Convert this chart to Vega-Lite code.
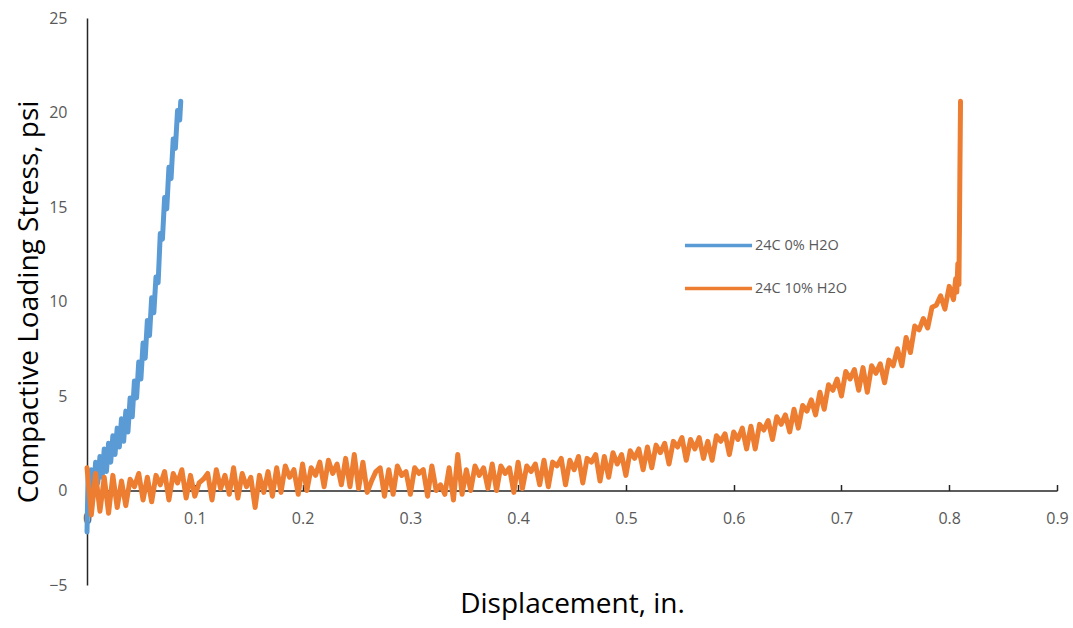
{
"$schema": "https://vega.github.io/schema/vega-lite/v6.json",
"width": 970, "height": 567, "autosize": "none",
"padding": {"left": 87, "top": 18, "right": 16, "bottom": 43},
"background": "white",
"config": {"view": {"stroke": null}, "font": "Open Sans"},
"data": {"values": [
{"s":"24C 0% H2O","x":0.000,"y":-2.2},{"s":"24C 0% H2O","x":0.001,"y":0.8},{"s":"24C 0% H2O","x":0.002,"y":-0.9},{"s":"24C 0% H2O","x":0.004,"y":1.1},{"s":"24C 0% H2O","x":0.006,"y":-0.1},{"s":"24C 0% H2O","x":0.008,"y":1.5},{"s":"24C 0% H2O","x":0.010,"y":0.4},{"s":"24C 0% H2O","x":0.012,"y":1.8},{"s":"24C 0% H2O","x":0.014,"y":0.7},{"s":"24C 0% H2O","x":0.016,"y":2.2},{"s":"24C 0% H2O","x":0.018,"y":1.0},{"s":"24C 0% H2O","x":0.020,"y":2.5},{"s":"24C 0% H2O","x":0.022,"y":1.5},{"s":"24C 0% H2O","x":0.024,"y":2.9},{"s":"24C 0% H2O","x":0.026,"y":1.9},{"s":"24C 0% H2O","x":0.028,"y":3.3},{"s":"24C 0% H2O","x":0.030,"y":2.3},{"s":"24C 0% H2O","x":0.032,"y":3.8},{"s":"24C 0% H2O","x":0.034,"y":2.6},{"s":"24C 0% H2O","x":0.036,"y":4.2},{"s":"24C 0% H2O","x":0.038,"y":3.1},{"s":"24C 0% H2O","x":0.040,"y":4.9},{"s":"24C 0% H2O","x":0.042,"y":3.9},{"s":"24C 0% H2O","x":0.044,"y":5.8},{"s":"24C 0% H2O","x":0.046,"y":4.9},{"s":"24C 0% H2O","x":0.048,"y":6.8},{"s":"24C 0% H2O","x":0.050,"y":5.9},{"s":"24C 0% H2O","x":0.052,"y":7.8},{"s":"24C 0% H2O","x":0.054,"y":7.0},{"s":"24C 0% H2O","x":0.056,"y":9.0},{"s":"24C 0% H2O","x":0.058,"y":8.2},{"s":"24C 0% H2O","x":0.060,"y":10.2},{"s":"24C 0% H2O","x":0.062,"y":9.4},{"s":"24C 0% H2O","x":0.064,"y":11.3},{"s":"24C 0% H2O","x":0.066,"y":11.0},{"s":"24C 0% H2O","x":0.068,"y":13.6},{"s":"24C 0% H2O","x":0.070,"y":13.3},{"s":"24C 0% H2O","x":0.072,"y":15.5},{"s":"24C 0% H2O","x":0.074,"y":14.9},{"s":"24C 0% H2O","x":0.076,"y":17.1},{"s":"24C 0% H2O","x":0.078,"y":16.5},{"s":"24C 0% H2O","x":0.080,"y":18.6},{"s":"24C 0% H2O","x":0.082,"y":18.1},{"s":"24C 0% H2O","x":0.084,"y":20.1},{"s":"24C 0% H2O","x":0.086,"y":19.6},{"s":"24C 0% H2O","x":0.087,"y":20.6},
{"s":"24C 10% H2O","x":0.000,"y":1.2},{"s":"24C 10% H2O","x":0.004,"y":-1.3},{"s":"24C 10% H2O","x":0.008,"y":0.9},{"s":"24C 10% H2O","x":0.012,"y":-1.1},{"s":"24C 10% H2O","x":0.016,"y":0.7},
{"s":"24C 10% H2O","x":0.020,"y":-1.2},{"s":"24C 10% H2O","x":0.024,"y":0.8},{"s":"24C 10% H2O","x":0.028,"y":-0.9},{"s":"24C 10% H2O","x":0.032,"y":0.5},{"s":"24C 10% H2O","x":0.036,"y":-0.8},
{"s":"24C 10% H2O","x":0.040,"y":0.6},{"s":"24C 10% H2O","x":0.044,"y":0.2},{"s":"24C 10% H2O","x":0.048,"y":0.9},{"s":"24C 10% H2O","x":0.052,"y":-0.5},{"s":"24C 10% H2O","x":0.056,"y":0.7},
{"s":"24C 10% H2O","x":0.060,"y":-0.6},{"s":"24C 10% H2O","x":0.064,"y":0.8},{"s":"24C 10% H2O","x":0.068,"y":0.3},{"s":"24C 10% H2O","x":0.072,"y":1.0},{"s":"24C 10% H2O","x":0.076,"y":-0.5},
{"s":"24C 10% H2O","x":0.080,"y":0.9},{"s":"24C 10% H2O","x":0.084,"y":0.4},{"s":"24C 10% H2O","x":0.088,"y":1.1},{"s":"24C 10% H2O","x":0.092,"y":-0.4},{"s":"24C 10% H2O","x":0.096,"y":0.8},
{"s":"24C 10% H2O","x":0.100,"y":-0.3},{"s":"24C 10% H2O","x":0.104,"y":0.4},{"s":"24C 10% H2O","x":0.108,"y":0.6},{"s":"24C 10% H2O","x":0.112,"y":0.9},{"s":"24C 10% H2O","x":0.116,"y":-0.5},
{"s":"24C 10% H2O","x":0.120,"y":1.1},{"s":"24C 10% H2O","x":0.124,"y":0.1},{"s":"24C 10% H2O","x":0.128,"y":0.8},{"s":"24C 10% H2O","x":0.132,"y":-0.2},{"s":"24C 10% H2O","x":0.136,"y":1.2},
{"s":"24C 10% H2O","x":0.140,"y":-0.4},{"s":"24C 10% H2O","x":0.144,"y":0.9},{"s":"24C 10% H2O","x":0.148,"y":0.2},{"s":"24C 10% H2O","x":0.152,"y":0.7},{"s":"24C 10% H2O","x":0.156,"y":-0.9},
{"s":"24C 10% H2O","x":0.160,"y":0.8},{"s":"24C 10% H2O","x":0.164,"y":-0.1},{"s":"24C 10% H2O","x":0.168,"y":1.0},{"s":"24C 10% H2O","x":0.172,"y":-0.3},{"s":"24C 10% H2O","x":0.176,"y":1.2},
{"s":"24C 10% H2O","x":0.180,"y":-0.1},{"s":"24C 10% H2O","x":0.184,"y":1.3},{"s":"24C 10% H2O","x":0.188,"y":0.7},{"s":"24C 10% H2O","x":0.192,"y":1.1},{"s":"24C 10% H2O","x":0.196,"y":-0.2},
{"s":"24C 10% H2O","x":0.200,"y":1.4},{"s":"24C 10% H2O","x":0.204,"y":0.0},{"s":"24C 10% H2O","x":0.208,"y":1.2},{"s":"24C 10% H2O","x":0.212,"y":0.8},{"s":"24C 10% H2O","x":0.216,"y":1.5},
{"s":"24C 10% H2O","x":0.220,"y":0.2},{"s":"24C 10% H2O","x":0.224,"y":1.6},{"s":"24C 10% H2O","x":0.228,"y":0.9},{"s":"24C 10% H2O","x":0.232,"y":1.4},{"s":"24C 10% H2O","x":0.236,"y":0.3},
{"s":"24C 10% H2O","x":0.240,"y":1.7},{"s":"24C 10% H2O","x":0.244,"y":0.2},{"s":"24C 10% H2O","x":0.248,"y":1.9},{"s":"24C 10% H2O","x":0.252,"y":0.1},{"s":"24C 10% H2O","x":0.256,"y":1.5},
{"s":"24C 10% H2O","x":0.260,"y":-0.1},{"s":"24C 10% H2O","x":0.264,"y":0.5},{"s":"24C 10% H2O","x":0.268,"y":1.0},{"s":"24C 10% H2O","x":0.272,"y":1.2},{"s":"24C 10% H2O","x":0.276,"y":-0.3},
{"s":"24C 10% H2O","x":0.280,"y":1.1},{"s":"24C 10% H2O","x":0.284,"y":-0.2},{"s":"24C 10% H2O","x":0.288,"y":1.3},{"s":"24C 10% H2O","x":0.292,"y":0.8},{"s":"24C 10% H2O","x":0.296,"y":1.0},
{"s":"24C 10% H2O","x":0.300,"y":-0.2},{"s":"24C 10% H2O","x":0.304,"y":1.2},{"s":"24C 10% H2O","x":0.308,"y":0.9},{"s":"24C 10% H2O","x":0.312,"y":1.1},{"s":"24C 10% H2O","x":0.316,"y":-0.3},
{"s":"24C 10% H2O","x":0.320,"y":1.3},{"s":"24C 10% H2O","x":0.324,"y":0.0},{"s":"24C 10% H2O","x":0.328,"y":0.3},{"s":"24C 10% H2O","x":0.332,"y":-0.2},{"s":"24C 10% H2O","x":0.336,"y":1.2},
{"s":"24C 10% H2O","x":0.340,"y":-0.5},{"s":"24C 10% H2O","x":0.344,"y":1.9},{"s":"24C 10% H2O","x":0.348,"y":-0.2},{"s":"24C 10% H2O","x":0.352,"y":1.1},{"s":"24C 10% H2O","x":0.356,"y":0.0},
{"s":"24C 10% H2O","x":0.360,"y":1.3},{"s":"24C 10% H2O","x":0.364,"y":0.8},{"s":"24C 10% H2O","x":0.368,"y":1.2},{"s":"24C 10% H2O","x":0.372,"y":0.1},{"s":"24C 10% H2O","x":0.376,"y":1.4},
{"s":"24C 10% H2O","x":0.380,"y":0.0},{"s":"24C 10% H2O","x":0.384,"y":1.3},{"s":"24C 10% H2O","x":0.388,"y":0.9},{"s":"24C 10% H2O","x":0.392,"y":1.2},{"s":"24C 10% H2O","x":0.396,"y":-0.1},
{"s":"24C 10% H2O","x":0.400,"y":1.5},{"s":"24C 10% H2O","x":0.404,"y":0.1},{"s":"24C 10% H2O","x":0.408,"y":1.3},{"s":"24C 10% H2O","x":0.412,"y":1.0},{"s":"24C 10% H2O","x":0.416,"y":1.4},
{"s":"24C 10% H2O","x":0.420,"y":0.3},{"s":"24C 10% H2O","x":0.424,"y":1.6},{"s":"24C 10% H2O","x":0.428,"y":0.2},{"s":"24C 10% H2O","x":0.432,"y":1.5},{"s":"24C 10% H2O","x":0.436,"y":1.3},
{"s":"24C 10% H2O","x":0.440,"y":1.7},{"s":"24C 10% H2O","x":0.444,"y":0.3},{"s":"24C 10% H2O","x":0.448,"y":1.6},{"s":"24C 10% H2O","x":0.452,"y":1.1},{"s":"24C 10% H2O","x":0.456,"y":1.8},
{"s":"24C 10% H2O","x":0.460,"y":0.4},{"s":"24C 10% H2O","x":0.464,"y":1.7},{"s":"24C 10% H2O","x":0.468,"y":1.5},{"s":"24C 10% H2O","x":0.472,"y":1.9},{"s":"24C 10% H2O","x":0.476,"y":0.5},
{"s":"24C 10% H2O","x":0.480,"y":1.8},{"s":"24C 10% H2O","x":0.484,"y":0.7},{"s":"24C 10% H2O","x":0.488,"y":2.0},{"s":"24C 10% H2O","x":0.492,"y":1.4},{"s":"24C 10% H2O","x":0.496,"y":1.9},
{"s":"24C 10% H2O","x":0.500,"y":0.8},{"s":"24C 10% H2O","x":0.504,"y":2.1},{"s":"24C 10% H2O","x":0.508,"y":1.7},{"s":"24C 10% H2O","x":0.512,"y":2.2},{"s":"24C 10% H2O","x":0.516,"y":1.1},
{"s":"24C 10% H2O","x":0.520,"y":2.3},{"s":"24C 10% H2O","x":0.524,"y":1.2},{"s":"24C 10% H2O","x":0.528,"y":2.4},{"s":"24C 10% H2O","x":0.532,"y":2.0},{"s":"24C 10% H2O","x":0.536,"y":2.5},
{"s":"24C 10% H2O","x":0.540,"y":1.4},{"s":"24C 10% H2O","x":0.544,"y":2.6},{"s":"24C 10% H2O","x":0.548,"y":2.3},{"s":"24C 10% H2O","x":0.552,"y":2.8},{"s":"24C 10% H2O","x":0.556,"y":1.6},
{"s":"24C 10% H2O","x":0.560,"y":2.7},{"s":"24C 10% H2O","x":0.564,"y":2.2},{"s":"24C 10% H2O","x":0.568,"y":2.8},{"s":"24C 10% H2O","x":0.572,"y":1.7},{"s":"24C 10% H2O","x":0.576,"y":2.6},
{"s":"24C 10% H2O","x":0.580,"y":1.6},{"s":"24C 10% H2O","x":0.584,"y":2.9},{"s":"24C 10% H2O","x":0.588,"y":2.6},{"s":"24C 10% H2O","x":0.592,"y":3.0},{"s":"24C 10% H2O","x":0.596,"y":1.9},
{"s":"24C 10% H2O","x":0.600,"y":3.1},{"s":"24C 10% H2O","x":0.604,"y":2.7},{"s":"24C 10% H2O","x":0.608,"y":3.3},{"s":"24C 10% H2O","x":0.612,"y":2.2},{"s":"24C 10% H2O","x":0.616,"y":3.4},
{"s":"24C 10% H2O","x":0.620,"y":2.2},{"s":"24C 10% H2O","x":0.624,"y":3.5},{"s":"24C 10% H2O","x":0.628,"y":3.2},{"s":"24C 10% H2O","x":0.632,"y":3.7},{"s":"24C 10% H2O","x":0.636,"y":2.7},
{"s":"24C 10% H2O","x":0.640,"y":3.9},{"s":"24C 10% H2O","x":0.644,"y":3.5},{"s":"24C 10% H2O","x":0.648,"y":4.0},{"s":"24C 10% H2O","x":0.652,"y":3.1},{"s":"24C 10% H2O","x":0.656,"y":4.3},
{"s":"24C 10% H2O","x":0.660,"y":3.3},{"s":"24C 10% H2O","x":0.664,"y":4.5},{"s":"24C 10% H2O","x":0.668,"y":4.2},{"s":"24C 10% H2O","x":0.672,"y":4.8},{"s":"24C 10% H2O","x":0.676,"y":4.0},
{"s":"24C 10% H2O","x":0.680,"y":5.2},{"s":"24C 10% H2O","x":0.684,"y":4.3},{"s":"24C 10% H2O","x":0.688,"y":5.6},{"s":"24C 10% H2O","x":0.692,"y":5.3},{"s":"24C 10% H2O","x":0.696,"y":5.9},
{"s":"24C 10% H2O","x":0.700,"y":5.0},{"s":"24C 10% H2O","x":0.704,"y":6.3},{"s":"24C 10% H2O","x":0.708,"y":5.9},{"s":"24C 10% H2O","x":0.712,"y":6.4},{"s":"24C 10% H2O","x":0.716,"y":5.3},
{"s":"24C 10% H2O","x":0.720,"y":6.5},{"s":"24C 10% H2O","x":0.724,"y":5.2},{"s":"24C 10% H2O","x":0.728,"y":6.6},{"s":"24C 10% H2O","x":0.732,"y":6.2},{"s":"24C 10% H2O","x":0.736,"y":6.7},
{"s":"24C 10% H2O","x":0.740,"y":5.7},{"s":"24C 10% H2O","x":0.744,"y":6.9},{"s":"24C 10% H2O","x":0.748,"y":6.6},{"s":"24C 10% H2O","x":0.752,"y":7.5},{"s":"24C 10% H2O","x":0.756,"y":6.6},
{"s":"24C 10% H2O","x":0.760,"y":8.1},{"s":"24C 10% H2O","x":0.764,"y":7.3},{"s":"24C 10% H2O","x":0.768,"y":8.7},{"s":"24C 10% H2O","x":0.772,"y":8.5},{"s":"24C 10% H2O","x":0.776,"y":9.1},
{"s":"24C 10% H2O","x":0.780,"y":8.6},{"s":"24C 10% H2O","x":0.784,"y":9.7},{"s":"24C 10% H2O","x":0.788,"y":9.8},{"s":"24C 10% H2O","x":0.792,"y":10.3},{"s":"24C 10% H2O","x":0.796,"y":9.6},
{"s":"24C 10% H2O","x":0.800,"y":10.8},{"s":"24C 10% H2O","x":0.804,"y":10.1},{"s":"24C 10% H2O","x":0.806,"y":11.2},{"s":"24C 10% H2O","x":0.807,"y":10.5},{"s":"24C 10% H2O","x":0.808,"y":12.0},{"s":"24C 10% H2O","x":0.809,"y":10.9},{"s":"24C 10% H2O","x":0.8095,"y":14.0},{"s":"24C 10% H2O","x":0.810,"y":17.5},{"s":"24C 10% H2O","x":0.8105,"y":20.6}
]},
"mark": {"type": "line", "strokeWidth": 5, "strokeJoin": "round", "strokeCap": "round"},
"encoding": {
"x": {"field": "x", "type": "quantitative",
 "scale": {"domain": [0, 0.9], "nice": false, "zero": false},
 "axis": {"offset": -94.5, "values": [0,0.1,0.2,0.3,0.4,0.5,0.6,0.7,0.8,0.9], "format": ".1~f",
  "grid": false, "domainColor": "#262626", "domainWidth": 1.5, "tickColor": "#262626", "tickSize": -6, "tickWidth": 1.5,
  "labelFontSize": 16, "labelColor": "#595959", "labelPadding": 26, "labelFlush": false,
  "title": "Displacement, in.", "titleFontSize": 28, "titleFontWeight": "normal", "titleColor": "#000000", "titlePadding": 64}},
"y": {"field": "y", "type": "quantitative",
 "scale": {"domain": [-5, 25], "nice": false, "zero": false},
 "axis": {"values": [-5,0,5,10,15,20,25], "grid": false, "ticks": false, "domainColor": "#262626", "domainWidth": 1.5,
  "labelFontSize": 16, "labelColor": "#595959", "labelPadding": 20,
  "title": "Compactive Loading Stress, psi", "titleFontSize": 28, "titleFontWeight": "normal", "titleColor": "#000000", "titlePadding": 5}},
"color": {"field": "s", "type": "nominal",
 "scale": {"domain": ["24C 0% H2O", "24C 10% H2O"], "range": ["#5B9BD5", "#ED7D31"]},
 "legend": {"orient": "none", "legendX": 596, "legendY": 192, "title": null, "symbolType": "stroke", "symbolSize": 4500, "symbolStrokeWidth": 3.5,
  "labelFontSize": 14.5, "labelColor": "#595959", "labelOffset": 1, "rowPadding": 0}}
}
}
